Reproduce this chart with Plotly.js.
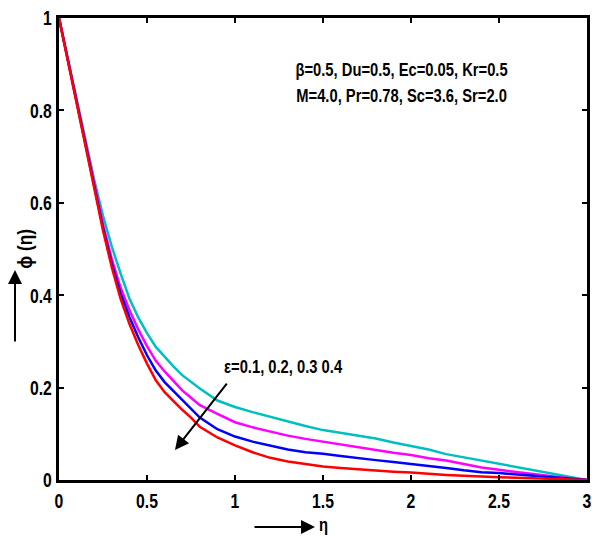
<!DOCTYPE html>
<html>
<head>
<meta charset="utf-8">
<script src="https://cdn.plot.ly/plotly-3.0.1.min.js"></script>
<style>html,body{margin:0;padding:0;background:#fff;}#chart{width:592px;height:538px;}</style>
</head>
<body>
<div id="chart"></div>
<script>
const eta = [0, 0.05, 0.1, 0.15, 0.2, 0.25, 0.3, 0.35, 0.4, 0.45, 0.5, 0.55, 0.6, 0.65, 0.7, 0.75, 0.8, 0.9,
             1.0, 1.1, 1.2, 1.3, 1.4, 1.5, 1.6, 1.7, 1.8, 1.9, 2.0, 2.1, 2.2, 2.3, 2.4, 2.5, 2.6, 2.7, 2.8, 2.9, 3.0];
const phiEps01 = [1, 0.907, 0.814, 0.722, 0.630, 0.540, 0.460, 0.392, 0.338, 0.292, 0.252, 0.216, 0.190, 0.170, 0.152, 0.135, 0.115, 0.092,
                  0.075, 0.060, 0.048, 0.040, 0.035, 0.029, 0.026, 0.023, 0.020, 0.018, 0.016, 0.013, 0.011, 0.009, 0.007, 0.006, 0.005, 0.004, 0.003, 0.002, 0];
const phiEps02 = [1, 0.909, 0.817, 0.725, 0.634, 0.546, 0.468, 0.404, 0.353, 0.309, 0.270, 0.237, 0.212, 0.193, 0.172, 0.153, 0.135, 0.110,
                  0.094, 0.083, 0.075, 0.066, 0.060, 0.057, 0.052, 0.047, 0.043, 0.039, 0.035, 0.030, 0.026, 0.021, 0.017, 0.015, 0.012, 0.009, 0.006, 0.003, 0];
const phiEps03 = [1, 0.910, 0.820, 0.728, 0.638, 0.553, 0.478, 0.416, 0.368, 0.326, 0.290, 0.258, 0.235, 0.215, 0.194, 0.178, 0.162, 0.143,
                  0.125, 0.114, 0.105, 0.096, 0.089, 0.083, 0.077, 0.071, 0.064, 0.059, 0.054, 0.047, 0.042, 0.035, 0.027, 0.022, 0.017, 0.012, 0.008, 0.004, 0];
const phiEps04 = [1, 0.912, 0.825, 0.737, 0.650, 0.572, 0.505, 0.447, 0.393, 0.352, 0.318, 0.288, 0.266, 0.246, 0.227, 0.212, 0.198, 0.172,
                  0.158, 0.147, 0.137, 0.126, 0.117, 0.108, 0.102, 0.097, 0.090, 0.081, 0.074, 0.066, 0.056, 0.049, 0.042, 0.036, 0.029, 0.022, 0.015, 0.008, 0];
const xTicks = [0, 0.5, 1, 1.5, 2, 2.5, 3];
const xTickText = ['0', '0.5', '1', '1.5', '2', '2.5', '3'];
const yTicks = [0, 0.2, 0.4, 0.6, 0.8, 1];
const yTickText = ['0', '0.2', '0.4', '0.6', '0.8', '1'];

const FONT = '"Liberation Sans", Arial, Helvetica, sans-serif';
const series = [
  {y: phiEps04, color: '#00bfbf', name: 'ε=0.4'},
  {y: phiEps03, color: '#ff00ff', name: 'ε=0.3'},
  {y: phiEps02, color: '#0000ff', name: 'ε=0.2'},
  {y: phiEps01, color: '#ff0000', name: 'ε=0.1'}
];
const traces = series.map(s => ({
  x: eta, y: s.y, type: 'scatter', mode: 'lines', name: s.name,
  line: {color: s.color, width: 2.5}, showlegend: false
}));

const axisCommon = {
  showline: true, mirror: 'allticks', linecolor: '#000', linewidth: 3,
  ticks: 'inside', ticklen: 5, tickwidth: 2, tickcolor: '#000',
  showgrid: false, zeroline: false, ticklabeloverflow: 'allow',
  tickfont: {family: FONT, size: 21, color: '#000', weight: 'bold'}
};
const annFont = {family: FONT, size: 18, color: '#000', weight: 'bold'};

const layout = {
  width: 592, height: 538,
  margin: {l: 59, r: 5, t: 18, b: 58},
  paper_bgcolor: '#fff', plot_bgcolor: '#fff',
  font: {family: FONT, color: '#000'},
  xaxis: Object.assign({}, axisCommon, {range: [0, 3], tickvals: xTicks, ticktext: xTickText}),
  yaxis: Object.assign({}, axisCommon, {range: [0, 1], tickvals: yTicks, ticktext: yTickText, ticklabelstandoff: 0}),
  annotations: [
    {xref: 'paper', yref: 'paper', x: (401 - 59) / 528, y: (480 - 70) / 462, text: 'β=0.5, Du=0.5, Ec=0.05, Kr=0.5',
     showarrow: false, font: annFont, xanchor: 'center', yanchor: 'middle'},
    {xref: 'paper', yref: 'paper', x: (401 - 59) / 528, y: (480 - 96) / 462, text: 'M=4.0, Pr=0.78, Sc=3.6, Sr=2.0',
     showarrow: false, font: annFont, xanchor: 'center', yanchor: 'middle'},
    {xref: 'paper', yref: 'paper', x: (283 - 59) / 528, y: (480 - 367) / 462, text: 'ε=0.1, 0.2, 0.3 0.4',
     showarrow: false, font: annFont, xanchor: 'center', yanchor: 'middle'},
    {xref: 'x', yref: 'y', axref: 'x', ayref: 'y', x: 0.659, y: 0.065, ax: 0.96, ay: 0.212, text: '',
     showarrow: true, arrowhead: 2, arrowsize: 1.4, arrowwidth: 2, arrowcolor: '#000'},
    {xref: 'paper', yref: 'paper', x: (15 - 59) / 528, y: (480 - 270) / 462, ax: 0, ay: 73, text: '',
     showarrow: true, arrowhead: 2, arrowsize: 1.4, arrowwidth: 2, arrowcolor: '#000'},
    {xref: 'paper', yref: 'paper', x: (24 - 59) / 528, y: (480 - 249) / 462, text: 'ϕ (η)', textangle: -90,
     showarrow: false, font: {family: FONT, size: 21, color: '#000', weight: 'bold'}, xanchor: 'center', yanchor: 'middle'},
    {xref: 'paper', yref: 'paper', x: (315 - 59) / 528, y: (480 - 527) / 462, ax: -62, ay: 0, text: '',
     showarrow: true, arrowhead: 2, arrowsize: 1.4, arrowwidth: 2, arrowcolor: '#000'},
    {xref: 'paper', yref: 'paper', x: (323 - 59) / 528, y: (480 - 525) / 462, text: 'η',
     showarrow: false, font: annFont, xanchor: 'center', yanchor: 'middle'}
  ]
};

function condense(selector, s) {
  document.querySelectorAll(selector).forEach(t => {
    const x = parseFloat(t.getAttribute('x')) || 0;
    const y = parseFloat(t.getAttribute('y')) || 0;
    const tr = t.getAttribute('transform') || '';
    t.setAttribute('transform', tr + ` translate(${x},${y}) scale(${s},1) translate(${-x},${-y})`);
  });
}

Plotly.newPlot('chart', traces, layout, {displayModeBar: false, staticPlot: true}).then(() => {
  condense('#chart .xtick text, #chart .ytick text', 0.75);
  condense('#chart .annotation-text', 0.82);
});
</script>
</body>
</html>
